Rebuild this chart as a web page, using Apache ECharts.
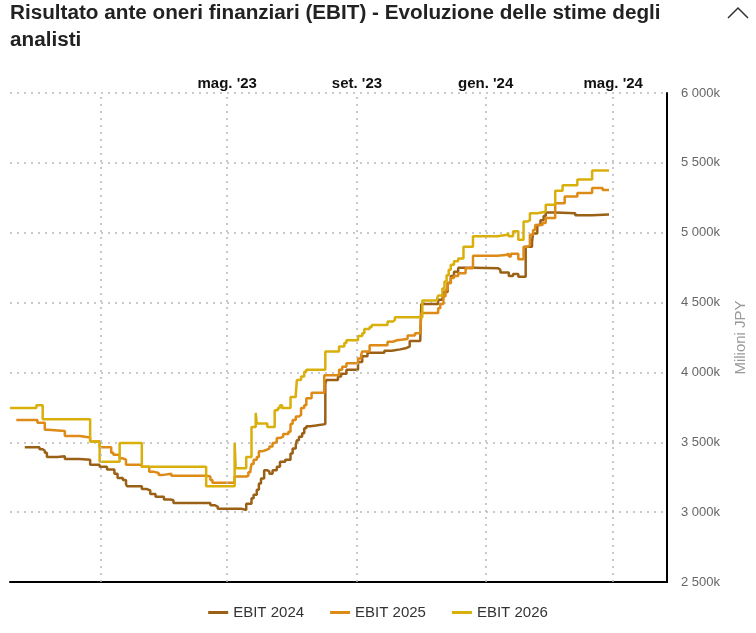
<!DOCTYPE html>
<html>
<head>
<meta charset="utf-8">
<script src="https://cdn.jsdelivr.net/npm/echarts@6/dist/echarts.min.js"></script>
<style>
  html, body { margin: 0; padding: 0; background: #fff; }
  #main { width: 756px; height: 633px; }
</style>
</head>
<body>
<div id="main"></div>
<script>
// stime EBIT (milioni JPY, in migliaia) - data revisione / valore
var ebit2024 = [
  ['2022-10-21', 3465], ['2022-11-04', 3450], ['2022-11-07', 3440], ['2022-11-09', 3425],
  ['2022-11-11', 3395], ['2022-11-15', 3390], ['2022-11-16', 3395], ['2022-11-21', 3400],
  ['2022-11-28', 3380], ['2022-12-12', 3375], ['2022-12-22', 3340], ['2022-12-31', 3325],
  ['2023-01-07', 3305], ['2023-01-14', 3275], ['2023-01-17', 3245], ['2023-01-22', 3230],
  ['2023-01-25', 3200], ['2023-01-26', 3185], ['2023-02-09', 3165], ['2023-02-14', 3155],
  ['2023-02-17', 3130], ['2023-02-22', 3110], ['2023-03-02', 3090], ['2023-03-08', 3085],
  ['2023-03-11', 3065], ['2023-04-15', 3050], ['2023-04-19', 3040], ['2023-04-22', 3025],
  ['2023-05-14', 3015], ['2023-05-19', 3060], ['2023-05-24', 3100], ['2023-05-26', 3125],
  ['2023-05-29', 3160], ['2023-05-31', 3205], ['2023-06-02', 3240], ['2023-06-05', 3300],
  ['2023-06-08', 3290], ['2023-06-10', 3275], ['2023-06-13', 3300], ['2023-06-17', 3325],
  ['2023-06-20', 3360], ['2023-06-25', 3375], ['2023-06-30', 3420], ['2023-07-02', 3455],
  ['2023-07-05', 3480], ['2023-07-06', 3515], ['2023-07-08', 3540], ['2023-07-11', 3565],
  ['2023-07-13', 3600], ['2023-07-15', 3615], ['2023-07-19', 3620], ['2023-07-24', 3630],
  ['2023-08-02', 3920], ['2023-08-03', 3945], ['2023-08-14', 3970], ['2023-08-17', 3990],
  ['2023-08-22', 4020], ['2023-09-02', 4075], ['2023-09-06', 4115], ['2023-09-11', 4140],
  ['2023-09-27', 4155], ['2023-10-04', 4165], ['2023-10-12', 4175], ['2023-10-18', 4185],
  ['2023-10-21', 4225], ['2023-10-31', 4230], ['2023-11-01', 4490], ['2023-11-17', 4520],
  ['2023-11-21', 4530], ['2023-11-22', 4575], ['2023-11-26', 4640], ['2023-11-29', 4690],
  ['2023-12-02', 4720], ['2023-12-06', 4750], ['2023-12-20', 4745], ['2024-01-13', 4735],
  ['2024-01-15', 4715], ['2024-01-23', 4690], ['2024-01-27', 4705], ['2024-02-01', 4685],
  ['2024-02-08', 4900], ['2024-02-14', 4935], ['2024-02-15', 4995], ['2024-02-19', 5055],
  ['2024-02-22', 5090], ['2024-02-25', 5120], ['2024-02-27', 5145], ['2024-03-07', 5140],
  ['2024-03-26', 5125], ['2024-04-11', 5130], ['2024-04-27', 5130]
];
var ebit2025 = [
  ['2022-10-13', 3660], ['2022-11-02', 3640], ['2022-11-09', 3590], ['2022-11-12', 3580],
  ['2022-11-28', 3545], ['2022-12-12', 3535], ['2022-12-22', 3505], ['2022-12-31', 3465],
  ['2023-01-11', 3425], ['2023-01-13', 3410], ['2023-01-19', 3385], ['2023-01-22', 3375],
  ['2023-01-25', 3340], ['2023-02-09', 3325], ['2023-02-16', 3290], ['2023-02-20', 3280],
  ['2023-02-25', 3265], ['2023-02-28', 3275], ['2023-03-09', 3260], ['2023-04-11', 3255],
  ['2023-04-15', 3230], ['2023-04-17', 3210], ['2023-05-08', 3255], ['2023-05-19', 3260],
  ['2023-05-21', 3285], ['2023-05-23', 3300], ['2023-05-24', 3345], ['2023-05-26', 3375],
  ['2023-05-29', 3395], ['2023-05-31', 3435], ['2023-06-03', 3445], ['2023-06-07', 3455],
  ['2023-06-10', 3470], ['2023-06-13', 3495], ['2023-06-15', 3505], ['2023-06-17', 3530],
  ['2023-06-20', 3540], ['2023-06-23', 3560], ['2023-06-28', 3575], ['2023-06-30', 3630],
  ['2023-07-02', 3660], ['2023-07-05', 3685], ['2023-07-08', 3695], ['2023-07-10', 3745],
  ['2023-07-13', 3765], ['2023-07-15', 3815], ['2023-07-20', 3855], ['2023-08-01', 3980],
  ['2023-08-15', 4020], ['2023-08-18', 4040], ['2023-08-22', 4065], ['2023-09-02', 4100],
  ['2023-09-05', 4125], ['2023-09-06', 4150], ['2023-09-13', 4195], ['2023-09-30', 4220],
  ['2023-10-05', 4230], ['2023-10-09', 4240], ['2023-10-19', 4265], ['2023-10-26', 4280],
  ['2023-10-31', 4290], ['2023-11-01', 4425], ['2023-11-17', 4460], ['2023-11-19', 4490],
  ['2023-11-22', 4545], ['2023-11-24', 4590], ['2023-11-26', 4640], ['2023-11-29', 4675],
  ['2023-12-02', 4690], ['2023-12-06', 4710], ['2023-12-13', 4745], ['2023-12-20', 4835],
  ['2024-01-12', 4840], ['2024-01-20', 4850], ['2024-01-23', 4830], ['2024-01-25', 4850],
  ['2024-02-01', 4810], ['2024-02-06', 4900], ['2024-02-10', 4910], ['2024-02-12', 4985],
  ['2024-02-15', 5020], ['2024-02-17', 5055], ['2024-02-24', 5070], ['2024-02-27', 5105],
  ['2024-03-07', 5210], ['2024-03-16', 5260], ['2024-03-28', 5285], ['2024-04-11', 5320],
  ['2024-04-21', 5305], ['2024-04-27', 5300]
];
var ebit2026 = [
  ['2022-10-07', 3745], ['2022-11-01', 3765], ['2022-11-07', 3665], ['2022-12-22', 3505],
  ['2022-12-31', 3360], ['2023-01-19', 3495], ['2023-02-09', 3325], ['2023-04-11', 3185],
  ['2023-05-08', 3495], ['2023-05-09', 3315], ['2023-05-19', 3395], ['2023-05-24', 3610],
  ['2023-05-28', 3710], ['2023-05-29', 3635], ['2023-06-08', 3610], ['2023-06-15', 3730],
  ['2023-06-18', 3745], ['2023-06-20', 3765], ['2023-06-22', 3745], ['2023-06-30', 3825],
  ['2023-07-05', 3840], ['2023-07-06', 3945], ['2023-07-10', 3970], ['2023-07-13', 4005],
  ['2023-07-15', 4020], ['2023-08-02', 4150], ['2023-08-15', 4185], ['2023-08-20', 4210],
  ['2023-08-22', 4230], ['2023-09-02', 4260], ['2023-09-06', 4280], ['2023-09-08', 4310],
  ['2023-09-13', 4325], ['2023-09-15', 4340], ['2023-09-30', 4365], ['2023-10-05', 4375],
  ['2023-10-07', 4395], ['2023-11-02', 4515], ['2023-11-16', 4530], ['2023-11-17', 4550],
  ['2023-11-21', 4600], ['2023-11-23', 4650], ['2023-11-25', 4695], ['2023-11-27', 4735],
  ['2023-11-29', 4770], ['2023-12-02', 4795], ['2023-12-06', 4815], ['2023-12-11', 4900],
  ['2023-12-20', 4975], ['2024-01-12', 4985], ['2024-01-22', 5000], ['2024-01-23', 4975],
  ['2024-01-27', 5010], ['2024-02-01', 4950], ['2024-02-06', 5080], ['2024-02-10', 5090],
  ['2024-02-12', 5140], ['2024-02-19', 5150], ['2024-02-27', 5200], ['2024-03-07', 5300],
  ['2024-03-14', 5340], ['2024-03-28', 5380], ['2024-04-11', 5445], ['2024-04-27', 5445]
];
var seriesNames = ['EBIT 2024', 'EBIT 2025', 'EBIT 2026'];
var seriesColors = ['#9a6116', '#de8a16', '#d9b00b'];
var monthLines = ['2023-01-01', '2023-05-01', '2023-09-01', '2024-01-01', '2024-05-01'];
var monthLabels = ['2023-05-01', '2023-09-01', '2024-01-01', '2024-05-01'];
var xMin = '2022-10-07', xMax = '2024-06-21';
var mesi = ['gen.', 'feb.', 'mar.', 'apr.', 'mag.', 'giu.', 'lug.', 'ago.', 'set.', 'ott.', 'nov.', 'dic.'];

// 'YYYY-MM-DD' -> timestamp (ora locale)
function ts(s) {
  var p = s.split('-');
  return new Date(+p[0], p[1] - 1, +p[2]).getTime();
}

var myChart = echarts.init(document.getElementById('main'));
var font = '"Liberation Sans", Arial, sans-serif';
var dotted = { color: '#b8b8b8', width: 1.5, type: [2, 5] };

myChart.setOption({
  animation: false,
  textStyle: { fontFamily: font },
  title: {
    text: 'Risultato ante oneri finanziari (EBIT) - Evoluzione delle stime degli\nanalisti',
    left: 10, top: 0, padding: 0,
    textStyle: { fontSize: 20.7, fontWeight: 'bold', color: '#222', lineHeight: 27, fontFamily: font }
  },
  graphic: [{
    type: 'polyline',
    shape: { points: [[728, 18], [738, 8], [748, 18]] },
    style: { stroke: '#333', lineWidth: 1.5, fill: null }
  }],
  legend: {
    data: seriesNames,
    left: 'center', top: 600,
    icon: 'rect', itemWidth: 20, itemHeight: 3, itemGap: 26,
    textStyle: { fontSize: 15, color: '#333', fontFamily: font }
  },
  grid: { left: 10, right: 86, top: 93, bottom: 51 },
  xAxis: [{
    type: 'value', position: 'top', min: ts(xMin), max: ts(xMax),
    axisLine: { show: false }, axisTick: { show: false }, splitLine: { show: false },
    axisLabel: {
      customValues: monthLabels.map(ts), margin: 2,
      fontSize: 15, fontWeight: 'bold', color: '#111',
      formatter: function (v) {
        var d = new Date(v);
        return mesi[d.getMonth()] + " '" + String(d.getFullYear()).slice(2);
      }
    }
  }, {
    type: 'value', position: 'bottom', min: ts(xMin), max: ts(xMax),
    axisLine: { show: true, lineStyle: { color: '#000', width: 2 } },
    axisTick: { show: false }, axisLabel: { show: false }, splitLine: { show: false }
  }],
  yAxis: {
    type: 'value', position: 'right', min: 2500, max: 6000, interval: 500,
    name: 'Milioni JPY', nameLocation: 'middle', nameRotate: 90, nameGap: 66,
    nameTextStyle: { color: '#999', fontSize: 15 },
    axisLine: { show: true, lineStyle: { color: '#000', width: 2 } },
    axisTick: { show: false },
    splitLine: { show: true, lineStyle: dotted },
    axisLabel: {
      margin: 14, fontSize: 13, color: '#666',
      formatter: function (v) {
        var s = String(v);
        return s.slice(0, s.length - 3) + ' ' + s.slice(-3) + 'k';
      }
    }
  },
  series: [ebit2024, ebit2025, ebit2026].map(function (d, i) {
    var s = {
      name: seriesNames[i], type: 'line', step: 'end',
      data: d.map(function (p) { return [ts(p[0]), p[1]]; }),
      symbol: 'none', color: seriesColors[i],
      lineStyle: { width: 2.5, color: seriesColors[i] }
    };
    if (i === 0) {
      s.markLine = {
        silent: true, symbol: 'none', label: { show: false },
        lineStyle: dotted,
        data: monthLines.map(function (m) { return { xAxis: ts(m) }; })
      };
    }
    return s;
  })
});

window.addEventListener('resize', function () { myChart.resize(); });
</script>
</body>
</html>
